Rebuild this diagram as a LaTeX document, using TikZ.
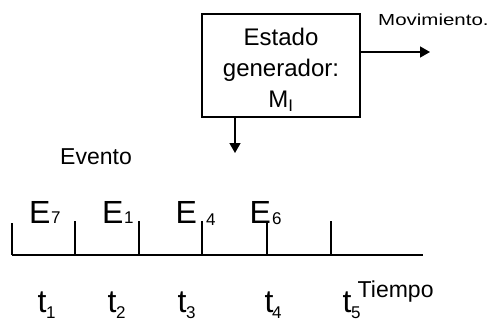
\documentclass[tikz,border=0pt]{standalone}
\usepackage{fontspec}
\setmainfont{Liberation Sans}
\usetikzlibrary{arrows.meta,calc}
\begin{document}
\begin{tikzpicture}[x=1pt,y=-1pt,
  ln/.style={line width=1.4pt,black},
  arr/.style={ln,-{Triangle[length=10pt,width=11pt]}},
  txt/.style={inner sep=0pt,anchor=base west,text=black},
  big/.style={txt,font=\fontsize{32}{32}\selectfont},
  sub/.style={txt,font=\fontsize{17}{17}\selectfont},
  mid/.style={txt,font=\fontsize{23}{23}\selectfont}]
\useasboundingbox (0,0) rectangle (489,327);
% box
\node[ln,draw,rectangle,minimum width=158pt,minimum height=103pt,inner sep=0pt] (box) at (281,65.5) {};
\node[inner sep=0pt,align=center,font=\fontsize{24}{31}\selectfont] (boxtext) at (281,70) {Estado\\generador:\\M\textsubscript{I}};
% arrows
\coordinate (mvEnd) at (430,52);
\coordinate (dEnd) at (235,153);
\draw[arr] (box.east |- mvEnd) -- (mvEnd);
\draw[arr] (box.south -| dEnd) -- (dEnd);
\node[txt,font=\fontsize{16}{16}\selectfont] (mov) at (378,25) {\scalebox{1.28}[1]{Movimiento.}};
% Evento
\node[mid] (evento) at (60,164) {Evento};
% timeline
\coordinate (a0) at (12,255);
\coordinate (a1) at (75,255);
\coordinate (a2) at (139,255);
\coordinate (a3) at (202,255);
\coordinate (a4) at (267,255);
\coordinate (a5) at (331,255);
\coordinate (aend) at (423,255);
\draw[ln] (a0) -- (aend);
\draw[ln] (a0) -- ++(0,-32);
\foreach \p in {a1,a2,a3,a4,a5} \draw[ln] (\p) -- ++(0,-34);
% events
\node[big] (e7) at (29,223) {E};
\node[sub] (s7) at (51,223) {7};
\node[big] (e1) at (102,223) {E};
\node[sub] (s1) at (124,223) {1};
\node[big] (e4) at (175.5,223) {E};
\node[sub] (s4) at (206,225) {4};
\node[big] (e6) at (249.5,223) {E};
\node[sub] (s6) at (272,224) {6};
% times
\node[big] (t1) at (37.5,312) {t};
\node[sub] (u1) at (46,318) {1};
\node[big] (t2) at (107.5,312) {t};
\node[sub] (u2) at (116,318) {2};
\node[big] (t3) at (177.5,312) {t};
\node[sub] (u3) at (186,318) {3};
\node[big] (t4) at (264.5,312) {t};
\node[sub] (u4) at (272,318) {4};
\node[big] (t5) at (342.5,312) {t};
\node[sub] (u5) at (351,318) {5};
\node[txt,font=\fontsize{23}{23}\selectfont] (tiempo) at (357.5,297) {Tiempo};
\end{tikzpicture}
\end{document}
